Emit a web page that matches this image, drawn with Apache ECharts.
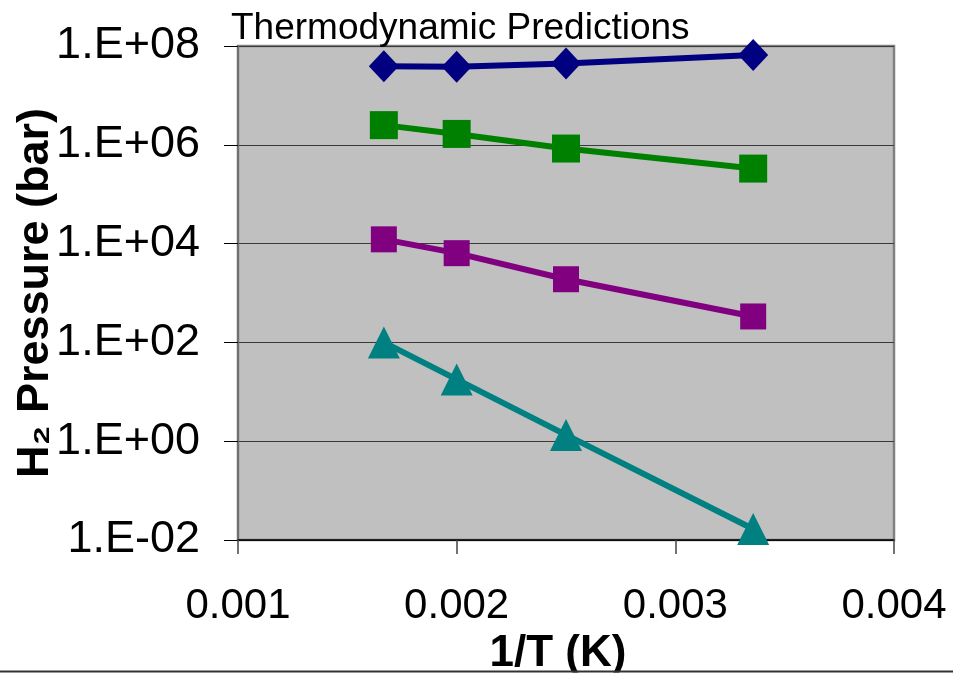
<!DOCTYPE html>
<html>
<head>
<meta charset="utf-8">
<script src="https://cdn.jsdelivr.net/npm/echarts@6/dist/echarts.min.js"></script>
<style>
html,body{margin:0;padding:0;background:#fff;}
#chart{width:953px;height:674px;}
</style>
</head>
<body>
<div id="chart"></div>
<script>
// 1/T values (K^-1) for 600 K, 500 K, 400 K, 298 K
const invT = [0.001667, 0.002, 0.0025, 0.003356];
const seriesNavy   = [3.9e7, 3.8e7, 4.4e7, 6.6e7];
const seriesGreen  = [2.5e6, 1.66e6, 8.4e5, 3.3e5];
const seriesPurple = [1.22e4, 6.4e3, 1.9e3, 335];
const seriesTeal   = [100, 17.8, 1.34, 0.0167];
const xTicks = [0.001, 0.002, 0.003, 0.004];
const titleText = 'Thermodynamic Predictions';
const xName = '1/T (K)';
const yName = 'H\u2082 Pressure (bar)';

const FONT = '"Liberation Sans", Arial, sans-serif';

function pairs(ys){ return invT.map((x,i)=>[x, ys[i]]); }
function yFmt(v){
  const e = Math.round(Math.log10(v));
  return '1.E' + (e < 0 ? '-' : '+') + String(Math.abs(e)).padStart(2,'0');
}
function xFmt(v){
  const m = xTicks.find(t => Math.abs(t - v) < 1e-9);
  return m !== undefined ? m.toFixed(3) : '';
}

const chart = echarts.init(document.getElementById('chart'), null, {renderer:'canvas'});
function mk(name, data, color, symbol, size){
  return {
    name, type:'line', data: pairs(data), color,
    symbol, symbolSize: size,
    lineStyle:{color, width:6},
    itemStyle:{color},
    emphasis:{disabled:true},
    z: 3
  };
}
chart.setOption({
  animation:false,
  backgroundColor:'#ffffff',
  textStyle:{fontFamily:FONT, color:'#000'},
  title:{
    text:titleText, left:226, top:5,
    textStyle:{fontFamily:FONT, fontSize:37, fontWeight:'normal', color:'#000'}
  },
  grid:{
    left:238, top:46, right:59, bottom:134,
    outerBoundsMode:'none', containLabel:false,
    show:true, backgroundColor:'#C0C0C0', borderColor:'#808080', borderWidth:2.5
  },
  xAxis:{
    type:'value', min:0.001, max:0.004, interval:0.001,
    name:xName, nameLocation:'middle', nameGap:92, nameMoveOverlap:false,
    nameTextStyle:{fontFamily:FONT, fontSize:44, fontWeight:'bold', color:'#000', padding:[0,16,0,0]},
    axisLine:{show:true, lineStyle:{color:'#000', width:1.5}},
    axisTick:{show:true, inside:false, length:14, lineStyle:{color:'#444', width:1.5}},
    axisLabel:{margin:45, fontFamily:FONT, fontSize:42, color:'#000', formatter:xFmt},
    splitLine:{show:false}
  },
  yAxis:{
    type:'log', logBase:10, min:0.01, max:1e8, interval:2,
    name:yName, nameLocation:'middle', nameGap:180, nameMoveOverlap:false,
    nameTextStyle:{fontFamily:FONT, fontSize:45, fontWeight:'bold', color:'#000'},
    axisLine:{show:true, lineStyle:{color:'#707070', width:2}},
    axisTick:{show:true, inside:false, length:14, lineStyle:{color:'#000', width:1}},
    axisLabel:{margin:38, fontFamily:FONT, fontSize:45, color:'#000', formatter:yFmt},
    splitLine:{show:true, lineStyle:{color:'#3a3a3a', width:1}},
    minorTick:{show:false}
  },
  series:[
    mk('Navy', seriesNavy, '#000080', 'diamond', [30,32]),
    mk('Green', seriesGreen, '#008000', 'rect', 28),
    mk('Purple', seriesPurple, '#800080', 'rect', 26),
    mk('Teal', seriesTeal, '#008080', 'triangle', 32)
  ],
  graphic:[
    {type:'line', z:100, shape:{x1:0, y1:671.5, x2:953, y2:671.5}, style:{stroke:'#333', lineWidth:2}},
    {type:'rect', z:99, shape:{x:0, y:672.5, width:953, height:2}, style:{fill:'#fff'}}
  ]
});
</script>
</body>
</html>
